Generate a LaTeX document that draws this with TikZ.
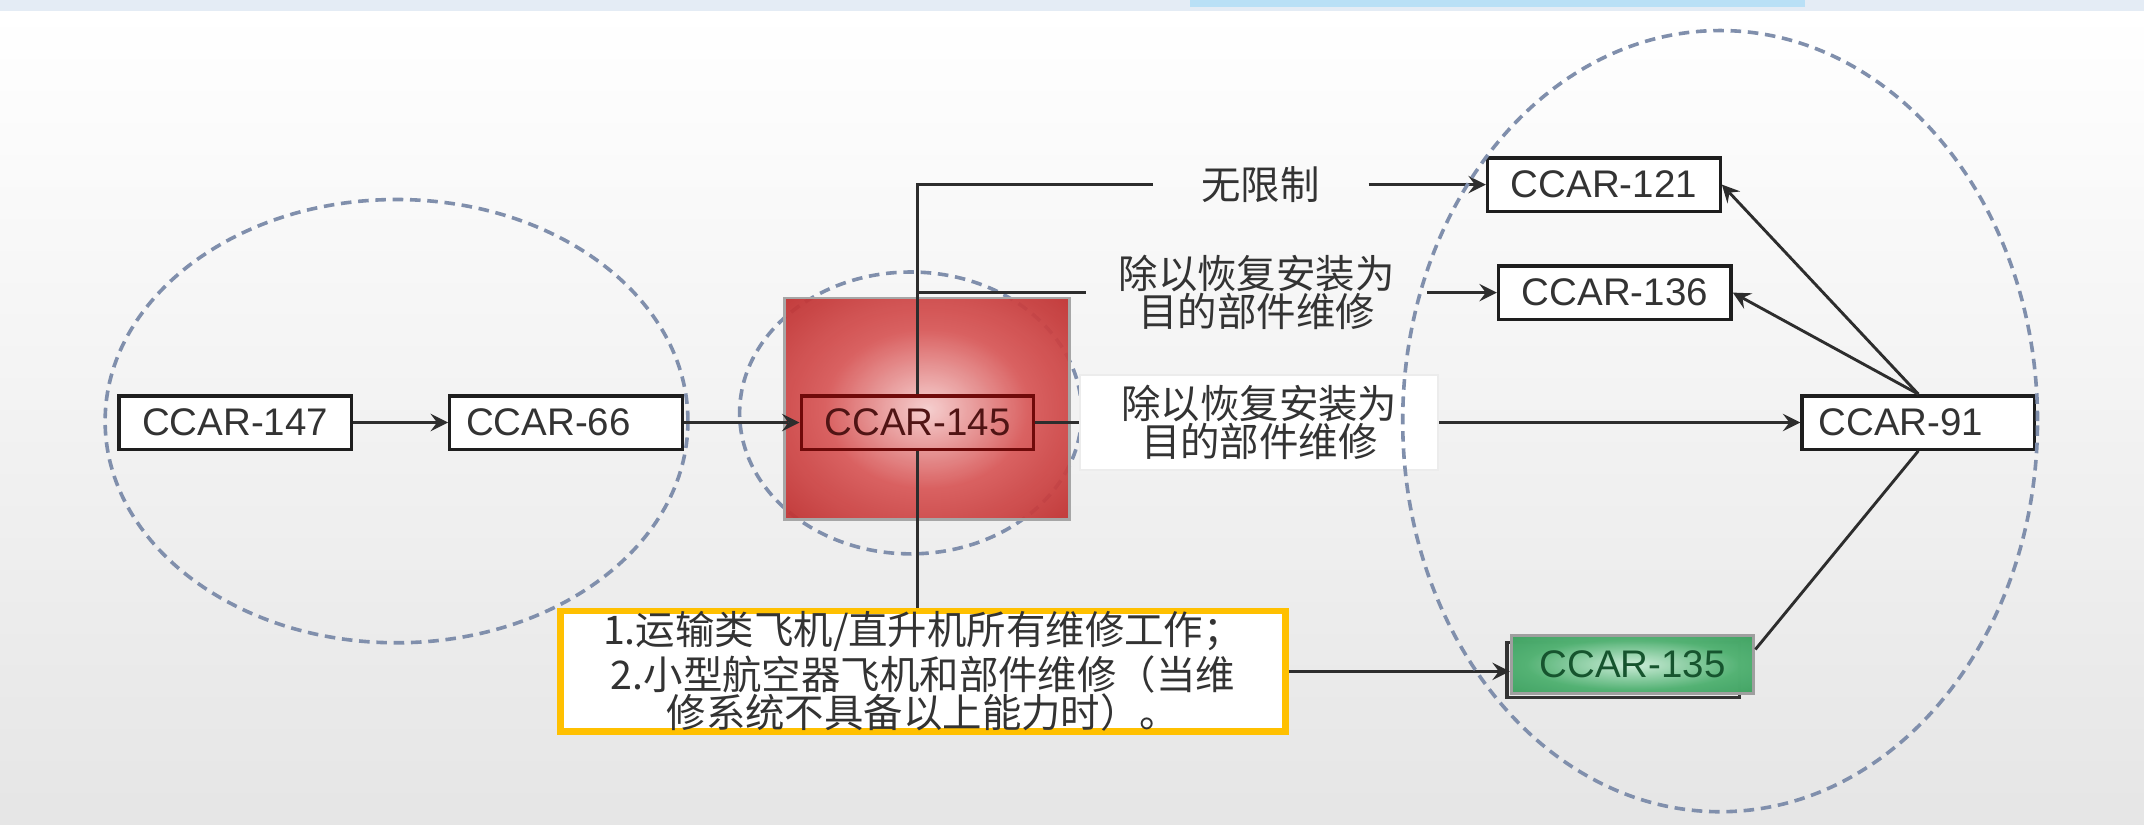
\documentclass[tikz,border=0pt]{standalone}
\usepackage{fontspec}
\setmainfont{Liberation Sans}
\newfontfamily\cjk{Noto Sans CJK SC}
\usetikzlibrary{calc}

\definecolor{zonec}{RGB}{128,143,172}
\definecolor{linec}{RGB}{45,45,45}
\definecolor{boxc}{RGB}{30,30,30}
\definecolor{gold}{RGB}{255,192,0}
\definecolor{topbar}{RGB}{228,236,245}
\definecolor{topblue}{RGB}{185,224,246}
\definecolor{redin}{RGB}{246,205,205}
\definecolor{redmid}{RGB}{216,88,88}
\definecolor{redout}{RGB}{178,28,28}
\definecolor{redcorner}{RGB}{118,0,0}
\definecolor{greenin}{RGB}{200,236,214}
\definecolor{greenmid}{RGB}{70,172,105}
\definecolor{greenout}{RGB}{32,140,70}
\definecolor{greencorner}{RGB}{20,110,50}

\pgfdeclareradialshading{redglow}{\pgfpoint{0bp}{0bp}}{%
  color(0bp)=(redin); color(18bp)=(redmid); color(45bp)=(redout); color(72bp)=(redcorner)}
\pgfdeclareradialshading{greenglow}{\pgfpoint{0bp}{0bp}}{%
  color(0bp)=(greenin); color(22bp)=(greenmid); color(48bp)=(greenout); color(72bp)=(greencorner)}

\tikzset{
  zone/.style={draw=zonec, line width=0.75pt, dash pattern=on 2.2pt off 1.4pt},
  line/.style={draw=linec, line width=0.6pt},
  arrow/.style={line, ->},
  ccar/.style={draw=boxc, line width=0.7pt, fill=white, minimum width=1.70cm,
    minimum height=0.39cm, inner sep=0pt, text=black!80,
    font=\fontsize{8pt}{9pt}\selectfont},
  leftccar/.style={ccar, text width=1.46cm, align=left, inner xsep=0.12cm},
  lab/.style={font=\cjk\fontsize{8.2pt}{8pt}\selectfont, text=black!80,
    align=center, inner xsep=0.23cm, inner ysep=0pt}
}

\begin{document}
\begin{tikzpicture}[x=0.01cm, y=-0.01cm, >=stealth]
    \useasboundingbox (0,0) rectangle (1568,603);
    % 背景
    \shade[top color=white, bottom color=black!10] (0,8) rectangle (1568,603);
    \fill[topbar] (0,0) rectangle (1568,8);
    \fill[topblue] (870,0) rectangle (1320,5);

    % 虚线范围
    \draw[zone] (290,308) ellipse [x radius=2.13cm, y radius=1.62cm];
    \draw[zone] (666,302) ellipse [x radius=1.25cm, y radius=1.03cm];

    \node[shade, shading=redglow, fill opacity=0.94, draw=gray!70, line width=0.6pt,
      minimum width=2.08cm, minimum height=1.62cm] (glow) at (678,299) {};

    % 规章
    \node[ccar] (c147) at (172,309) {CCAR-147};
    \node[leftccar] (c66) at (414,309) {CCAR-66};
    \node[ccar, fill=none, draw={rgb,255:red,112;green,10;blue,10}, text={rgb,255:red,80;green,20;blue,20}] (c145) at (671,309) {CCAR-145};
    \node[ccar] (c121) at (1173,135) {CCAR-121};
    \node[ccar] (c136) at (1181,214) {CCAR-136};
    \node[leftccar] (c91) at (1403,309) {CCAR-91};
    \draw[black!80, line width=0.7pt] (1102,470) rectangle (1272,510);
    \node[ccar, shade, shading=greenglow, fill opacity=0.92, text opacity=1, draw=gray!75,
      minimum width=1.77cm, minimum height=0.42cm, text={rgb,255:red,22;green,84;blue,46}] (c135) at (1194,486) {CCAR-135};

    % 维修范围说明
    \node[lab, inner xsep=0.35cm] (lab1) at (922,135) {无限制};
    \node[lab] (lab2) at (919,214) {除以恢复安装为\\目的部件维修};
    \node[lab, inner xsep=0.3cm, fill=white, draw=gray!15, minimum height=0.70cm] (lab3) at (921,309) {除以恢复安装为\\目的部件维修};
    \node[draw=gold, line width=1.4pt, fill=white, minimum width=5.30cm, minimum height=0.88cm,
      font=\cjk\fontsize{8.2pt}{7.9pt}\selectfont, text=black!80, align=center, inner sep=0pt] (note) at (675,491)
      {1.运输类飞机/直升机所有维修工作；\\2.小型航空器飞机和部件维修（当维\\修系统不具备以上能力时）。};

    % 连线
    \coordinate (fork) at (c145.north |- lab2.west);
    \draw[arrow] (c147) -- (c66);
    \draw[arrow] (c66) -- (c145);
    \draw[line] (c145.north) |- (lab1.west);
    \draw[line] (fork) -- (lab2.west);
    \draw[line] (c145.south) -- (c145.south |- note.north);
    \draw[line] (c145) -- (lab3);
    \draw[arrow] (lab1) -- (c121);
    \draw[arrow] (lab2) -- (c136);
    \draw[arrow] (lab3) -- (c91);
    \draw[arrow] (note.east) -- (note.east -| c135.west);
    \draw[arrow] (c91.north) -- (c121.east);
    \draw[arrow] (c91.north) -- (c136.east);
    \draw[line] (c91.south) -- (c135.7);

    \draw[zone] (1258,308) ellipse [x radius=2.32cm, y radius=2.855cm];
\end{tikzpicture}
\end{document}
